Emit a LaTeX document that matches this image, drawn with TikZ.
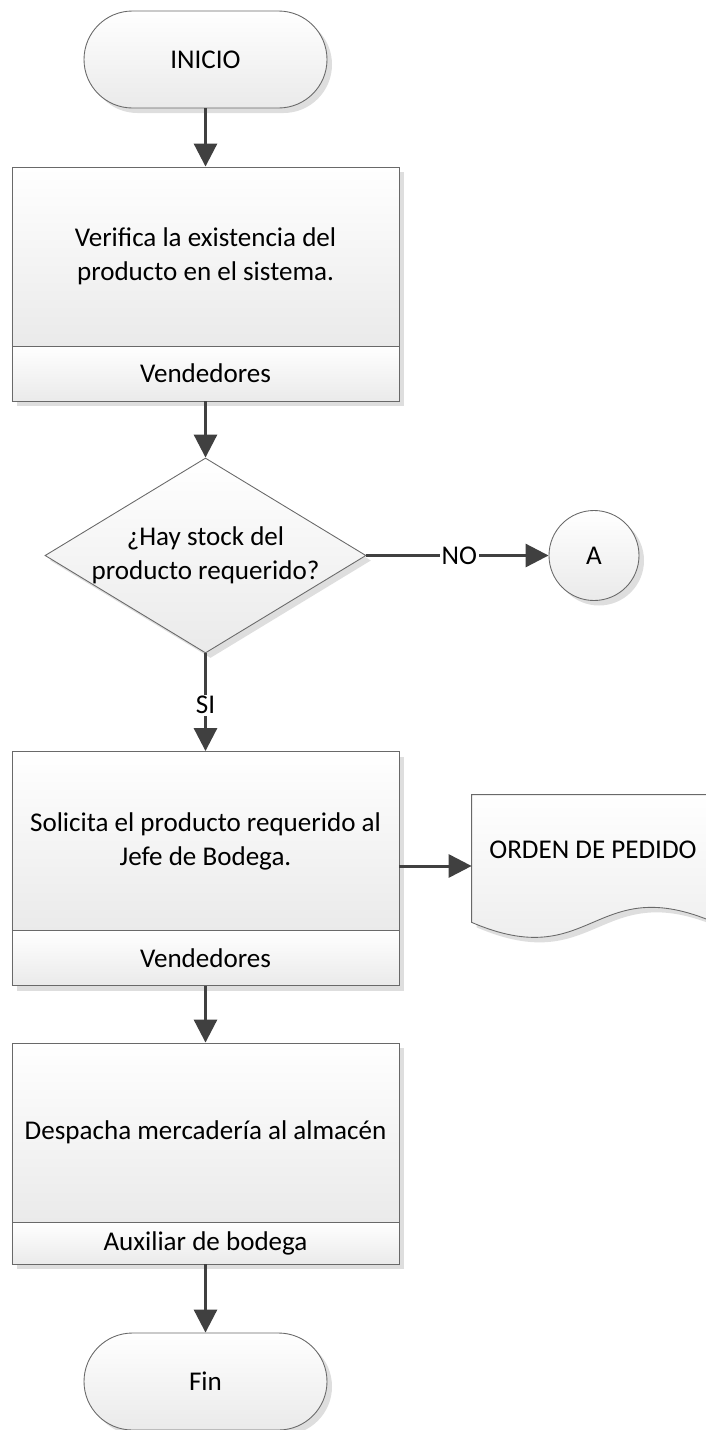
\documentclass[tikz,border=0pt]{standalone}
\usepackage{fontspec}
\setmainfont{Carlito}
\usepackage{xcolor}
\usetikzlibrary{shapes.geometric,shadows,arrows.meta}
\definecolor{flowline}{RGB}{64,64,64}
\definecolor{flowborder}{RGB}{105,105,105}
\definecolor{flowfill}{RGB}{234,234,234}
\pgfdeclarelayer{background}
\pgfsetlayers{background,main}

\begin{document}
\begin{tikzpicture}[font=\fontsize{15.4}{19.4}\selectfont]
    % Define styles
    \tikzstyle{shade} = [draw=flowborder, line width=0.5pt, top color=white, bottom color=flowfill, drop shadow={shadow xshift=0.1cm, shadow yshift=-0.1cm, fill=black!13, opacity=1}]
    \tikzstyle{terminal} = [rectangle, shade, rounded corners=0.97cm, minimum width=4.86cm, minimum height=1.94cm]
    \tikzstyle{process} = [rectangle, shade, align=center, minimum width=7.74cm, minimum height=3.58cm]
    \tikzstyle{role} = [rectangle, shade, inner sep=0pt, minimum width=7.74cm, minimum height=1.1cm]
    \tikzstyle{decision} = [diamond, shade, align=center, aspect=1.65, inner sep=-0.3cm, minimum width=6.42cm, minimum height=3.9cm]
    \tikzstyle{onpage} = [circle, shade, minimum size=1.8cm]
    \tikzstyle{docnode} = [rectangle, align=center, minimum width=4.84cm, minimum height=2.84cm, text height=0.4cm, text depth=0.72cm]
    \tikzstyle{docpage} = [shade]
    \tikzstyle{arrow} = [line width=0.06cm, draw=flowline, ->, >={Triangle[length=0.46cm,width=0.46cm]}]
    \tikzstyle{answer} = [fill=white, inner sep=1pt]

    \useasboundingbox (0,0) rectangle (14.12,-28.6);

    % Main column
    \node (inicio) [terminal] at (4.11,-1.19) {INICIO};
    \node (verifica) [process] at (4.11,-5.13) {Verifica la existencia del\\producto en el sistema.};
    \node (vend1) [role] at (4.11,-7.47) {Vendedores};
    \node (hay) [decision] at (4.11,-11.11) {¿Hay stock del\\producto requerido?};
    \node (solicita) [process] at (4.11,-16.82) {Solicita el producto requerido al\\Jefe de Bodega.};
    \node (vend2) [role] at (4.11,-19.16) {Vendedores};
    \node (despacha) [process] at (4.11,-22.65) {Despacha mercadería al almacén};
    \node (aux) [role, minimum height=0.84cm] at (4.11,-24.86) {Auxiliar de bodega};
    \node (fin) [terminal] at (4.11,-27.63) {Fin};

    % Side column
    \node (conA) [onpage] at (11.88,-11.11) {A};
    \node (orden) [docnode] at (11.86,-17.32) {ORDEN DE PEDIDO};
    \begin{pgfonlayer}{background}
        \path[docpage] (orden.north west) -- (orden.north east) -- ([yshift=0.3cm]orden.south east)
            .. controls ([xshift=-2.42cm,yshift=1.34cm]orden.south east) and ([xshift=2.42cm,yshift=-0.74cm]orden.south west)
            .. ([yshift=0.3cm]orden.south west) -- cycle;
    \end{pgfonlayer}

    % Flow
    \draw [arrow] (inicio) -- (verifica);
    \draw [arrow] (vend1) -- (hay);
    \draw [arrow] (hay) -- node[answer, pos=0.53] {SI} (solicita);
    \draw [arrow] (hay) -- node[answer, pos=0.51] {NO} (conA);
    \draw [arrow] (solicita.east |- orden.west) -- (orden.west);
    \draw [arrow] (vend2) -- (despacha);
    \draw [arrow] (aux) -- (fin);
\end{tikzpicture}
\end{document}
